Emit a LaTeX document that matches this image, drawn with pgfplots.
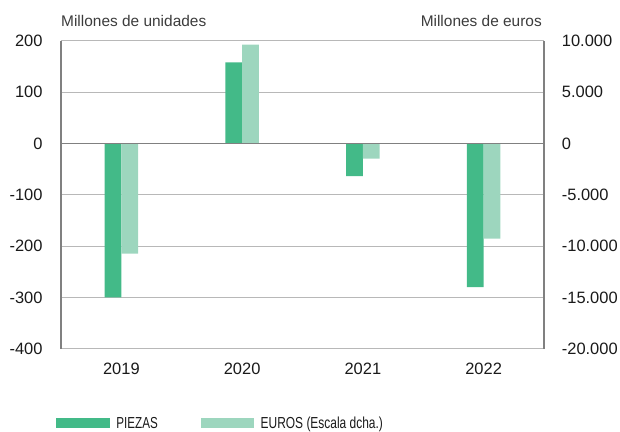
\documentclass[border=0pt]{standalone}
\usepackage{pgfplots}
\pgfplotsset{compat=1.18}
\usepackage{graphicx}
\usepackage{fontspec}
\setmainfont{Liberation Sans}
\definecolor{dark}{HTML}{43BA88}
\definecolor{light}{HTML}{9DD6BE}
\definecolor{axgray}{HTML}{808080}
\definecolor{gridgray}{HTML}{B8B8B8}
\definecolor{txt}{HTML}{1A1A1A}
\pgfplotsset{
  common/.style={
    scale only axis, width=483bp, height=308bp, at={(0,0)}, anchor=south west,
    xmin=0.5, xmax=4.5,
    major tick length=0pt,
    ticklabel style={font=\fontsize{16.5}{18}\selectfont, text=txt},
    /pgf/number format/assume math mode=true,
    ybar, bar width=16.8bp,
  }
}
\begin{document}
\begin{tikzpicture}
\useasboundingbox (-61bp,-83.3bp) rectangle (559bp,348.7bp);
\begin{axis}[common,
  clip=false,
  ymin=-400, ymax=200, ytick={-400,-300,...,200},
  xtick={1,2,3,4}, xticklabels={2019,2020,2021,2022},
  axis y line*=left, axis x line*=bottom,
  x axis line style={draw=none},
  y axis line style={-, draw=axgray, line width=1.3pt},
  ymajorgrids, grid style={gridgray, line width=0.7pt},
  yticklabel style={inner sep=0pt, anchor=east, xshift=-18.3bp},
  xticklabel style={inner sep=0pt, anchor=north, yshift=-14.6bp},
  bar shift=-8.4bp,
]
\addplot[fill=dark, draw=none] coordinates {(1,-300) (2,158) (3,-64) (4,-280)};
\node[anchor=base west, inner sep=0pt, font=\fontsize{15.5}{17}\selectfont, text=txt!85]
  at (rel axis cs:0,1) [yshift=14.7bp] {Millones de unidades};
\node[anchor=base east, inner sep=0pt, font=\fontsize{15.5}{17}\selectfont, text=txt!85]
  at (rel axis cs:1,1) [yshift=14.7bp, xshift=-2bp] {Millones de euros};
\end{axis}
\begin{axis}[common,
  ymin=-20000, ymax=10000, ytick={-20000,-15000,...,10000},
  scaled y ticks=false,
  axis y line*=right, hide x axis,
  y axis line style={-, draw=axgray, line width=1.3pt},
  yticklabel style={inner sep=0pt, anchor=west, xshift=17.7bp,
    /pgf/number format/.cd, 1000 sep={.}},
  bar shift=8.4bp,
  legend style={draw=none, fill=none, at={(0,0)}, anchor=north west,
    xshift=-4.5bp, yshift=-68.6bp, inner sep=0pt, outer sep=0pt,
    legend columns=2,
    nodes={inner sep=0pt, text height=11.5bp, text depth=3.5bp,
      font=\fontsize{16}{18}\selectfont, text=txt},
    /tikz/every odd column/.style={column sep=7.5bp},
    /tikz/every even column/.style={column sep=43bp}},
  legend cell align=left,
]
\addplot[fill=light, draw=none, forget plot] coordinates {(1,-10750) (2,9610) (3,-1490) (4,-9290)};
\draw[axgray, line width=1.4pt] (axis cs:0.5,0) -- (axis cs:4.5,0);
\draw[axgray, line width=1pt] (axis cs:1.5,0) ++(0,-5bp) -- ++(0,11.5bp);
\draw[axgray, line width=1pt] (axis cs:2.5,0) ++(0,-5bp) -- ++(0,11.5bp);
\draw[axgray, line width=1pt] (axis cs:3.5,0) ++(0,-5bp) -- ++(0,11.5bp);
\addlegendimage{legend image code/.code={\fill[dark] (0bp,-2bp) rectangle (52bp,7bp);}}
\addlegendentry{\scalebox{0.73}[1]{PIEZAS}}
\addlegendimage{legend image code/.code={\fill[light] (0bp,-2bp) rectangle (52bp,7bp);}}
\addlegendentry{\scalebox{0.75}[1]{EUROS (Escala dcha.)}}
\end{axis}
\end{tikzpicture}
\end{document}
